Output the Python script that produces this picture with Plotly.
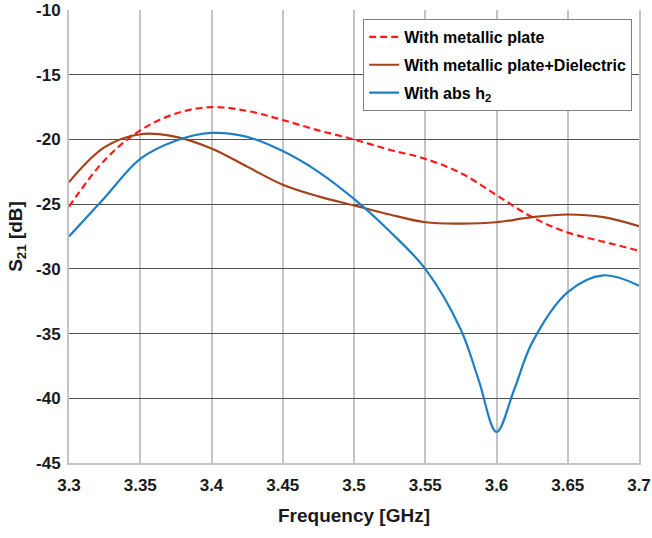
import plotly.graph_objects as go

# Frequency [GHz] / S21 [dB] values
freq = [3.3, 3.325, 3.35, 3.375, 3.4, 3.425, 3.45, 3.475, 3.5, 3.525, 3.55, 3.575, 3.6, 3.625, 3.65, 3.675, 3.7]
s21_metal = [-25.2, -21.6, -19.3, -18.0, -17.5, -17.8, -18.5, -19.3, -20.0, -20.8, -21.5, -22.6, -24.3, -26.0, -27.2, -27.9, -28.6]
s21_diel = [-23.3, -20.6, -19.6, -19.8, -20.7, -22.1, -23.5, -24.4, -25.1, -25.8, -26.4, -26.5, -26.4, -26.0, -25.8, -26.0, -26.7]

freq_abs = [3.3, 3.325, 3.35, 3.375, 3.4, 3.425, 3.45, 3.475, 3.5, 3.525, 3.55, 3.575, 3.5875, 3.6, 3.6125, 3.625, 3.65, 3.675, 3.7]
s21_abs = [-27.5, -24.5, -21.5, -20.1, -19.5, -19.8, -20.9, -22.5, -24.6, -27.1, -30.0, -34.7, -38.6, -42.6, -39.3, -35.7, -31.8, -30.5, -31.3]

x_ticks = [3.3, 3.35, 3.4, 3.45, 3.5, 3.55, 3.6, 3.65, 3.7]
x_tick_text = ["3.3", "3.35", "3.4", "3.45", "3.5", "3.55", "3.6", "3.65", "3.7"]
y_ticks = [-45, -40, -35, -30, -25, -20, -15, -10]

FONT = "Liberation Sans, Arial, sans-serif"

fig = go.Figure()
fig.add_trace(go.Scatter(x=freq, y=s21_metal, mode="lines", name="<b>With metallic plate</b>", legendgroup="a",
                         line=dict(color="#ff1a1a", width=2.2, dash="7px,4px", shape="spline", smoothing=1.0)))
fig.add_trace(go.Scatter(x=freq, y=s21_diel, mode="lines", name="<b>With metallic plate+Dielectric</b>", legendgroup="b",
                         line=dict(color="#a3421a", width=2.2, shape="spline", smoothing=1.0)))
fig.add_trace(go.Scatter(x=freq_abs, y=s21_abs, mode="lines", name="<b>With abs h<sub>2</sub></b>", legendgroup="c",
                         line=dict(color="#1f7fc4", width=2.2, shape="spline", smoothing=1.0)))

fig.update_layout(
    width=652, height=538,
    margin=dict(l=69, r=13, t=10, b=75),
    paper_bgcolor="white", plot_bgcolor="white",
    font=dict(family=FONT, color="#1a1a1a"),
    showlegend=True,
    legend=dict(x=0.988, y=0.980, xanchor="right", yanchor="top",
                bgcolor="white", bordercolor="#808080", borderwidth=1,
                font=dict(family=FONT, size=16, color="#000000"),
                itemwidth=30, tracegroupgap=4),
    xaxis=dict(range=[3.3, 3.7], tickvals=x_ticks, ticktext=["<b>%s</b>" % t for t in x_tick_text],
               tickfont=dict(size=17, family=FONT, color="#1a1a1a"),
               showgrid=True, gridcolor="#c4c4c4", gridwidth=2,
               showline=True, linecolor="#c4c4c4", linewidth=2, mirror=False,
               ticks="outside", ticklen=6, tickcolor="rgba(0,0,0,0)", zeroline=False,
               automargin=False,
               title=dict(text="<b>Frequency [GHz]</b>", font=dict(size=19, family=FONT, color="#1a1a1a"), standoff=14)),
    yaxis=dict(range=[-45, -10], tickvals=y_ticks, ticktext=["<b>%d</b>" % v for v in y_ticks],
               tickfont=dict(size=17, family=FONT, color="#1a1a1a"),
               showgrid=True, gridcolor="#505050", gridwidth=1,
               showline=True, linecolor="#c4c4c4", linewidth=2, mirror=True,
               zeroline=False, automargin=False,
               ticks="outside", ticklen=3, tickcolor="rgba(0,0,0,0)",
               title=dict(text="<b>S<sub>21</sub> [dB]</b>", font=dict(size=19, family=FONT, color="#1a1a1a"), standoff=8)),
)

fig.write_html("out.html", config={"displayModeBar": False},
               post_script="document.body.style.margin='0';")
